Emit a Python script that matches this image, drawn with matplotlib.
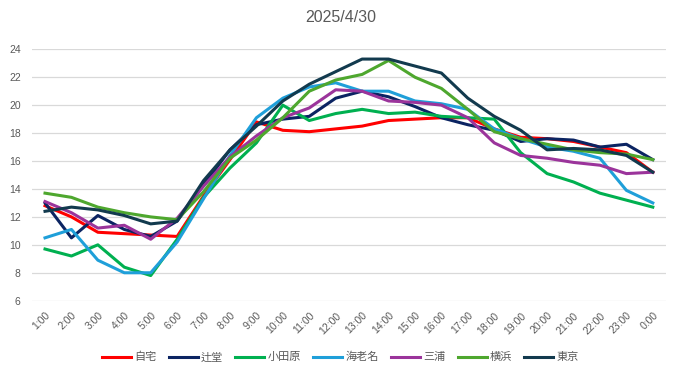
import matplotlib.pyplot as plt
import numpy as np

plt.rcParams['font.family'] = ['Liberation Sans', 'Noto Sans CJK JP']

hours = ['1:00', '2:00', '3:00', '4:00', '5:00', '6:00', '7:00', '8:00', '9:00', '10:00',
         '11:00', '12:00', '13:00', '14:00', '15:00', '16:00', '17:00', '18:00', '19:00',
         '20:00', '21:00', '22:00', '23:00', '0:00']

jitaku = [12.8, 12.0, 10.9, 10.8, 10.7, 10.6, 13.5, 16.1, 18.8, 18.2, 18.1, 18.3,
          18.5, 18.9, 19.0, 19.1, 19.1, 18.3, 17.7, 17.6, 17.4, 17.0, 16.6, 15.2]
tsujido = [13.0, 10.5, 12.1, 11.1, 10.6, 11.7, 14.3, 16.8, 18.6, 19.0, 19.2, 20.5,
           21.0, 20.6, 19.9, 19.1, 18.6, 18.2, 17.4, 17.6, 17.5, 17.0, 17.2, 16.1]
odawara = [9.7, 9.2, 10.0, 8.4, 7.8, 10.4, 13.4, 15.5, 17.3, 20.0, 18.9, 19.4,
           19.7, 19.4, 19.5, 19.2, 19.1, 19.0, 16.6, 15.1, 14.5, 13.7, 13.2, 12.7]
ebina = [10.5, 11.1, 8.9, 8.0, 8.0, 10.2, 13.3, 16.4, 19.1, 20.5, 21.3, 21.6,
         21.0, 21.0, 20.3, 20.1, 19.7, 18.3, 17.6, 17.0, 16.7, 16.2, 13.9, 13.0]
miura = [13.1, 12.3, 11.2, 11.4, 10.4, 11.9, 14.2, 16.3, 17.8, 19.1, 19.8, 21.1,
         21.0, 20.3, 20.2, 20.0, 19.1, 17.3, 16.4, 16.2, 15.9, 15.7, 15.1, 15.2]
yokohama = [13.7, 13.4, 12.7, 12.3, 12.0, 11.8, 13.8, 16.2, 17.5, 19.1, 21.0, 21.8,
            22.2, 23.2, 22.0, 21.2, 19.7, 18.1, 17.6, 17.2, 16.8, 16.6, 16.5, 16.1]
tokyo = [12.4, 12.7, 12.5, 12.1, 11.5, 11.7, 14.6, 16.8, 18.5, 20.3, 21.5, 22.4,
         23.3, 23.3, 22.8, 22.3, 20.5, 19.2, 18.2, 16.8, 16.9, 16.8, 16.4, 15.2]

series = [
    ('自宅', jitaku, '#ff0000'),
    ('辻堂', tsujido, '#0b2462'),
    ('小田原', odawara, '#00b050'),
    ('海老名', ebina, '#1f9fd9'),
    ('三浦', miura, '#9b349b'),
    ('横浜', yokohama, '#4ea72e'),
    ('東京', tokyo, '#123a4e'),
]

fig = plt.figure(figsize=(6.81, 3.78), dpi=100)
ax = fig.add_axes([0.0467, 0.2045, 0.9313, 0.6651])

x = np.arange(len(hours))
for name, vals, col in series:
    ax.plot(x, vals, color=col, linewidth=2.2, label=name, solid_joinstyle='round')

ax.set_xlim(-0.5, len(hours) - 0.5)
ax.set_ylim(6, 24)
ax.set_yticks(range(6, 25, 2))
ax.set_xticks(x)
ax.set_xticklabels(hours, rotation=45, ha='right', rotation_mode='anchor')
ax.tick_params(axis='both', length=0, labelsize=7.5, colors='#595959')
ax.tick_params(axis='x', pad=7)
ax.tick_params(axis='y', pad=8)
ax.grid(axis='y', color='#d9d9d9', linewidth=0.9)
ax.set_axisbelow(True)
for s in ax.spines.values():
    s.set_visible(False)

fig.text(0.5, 0.953, '2025/4/30', ha='center', va='center', fontsize=11.5, color='#595959')

fig.legend(loc='center', bbox_to_anchor=(0.5, 0.055), ncol=7, frameon=False,
           fontsize=8, labelcolor='#595959', handlelength=2.6, handletextpad=0.3,
           columnspacing=1.1)

fig.savefig('out.png', dpi=100)
